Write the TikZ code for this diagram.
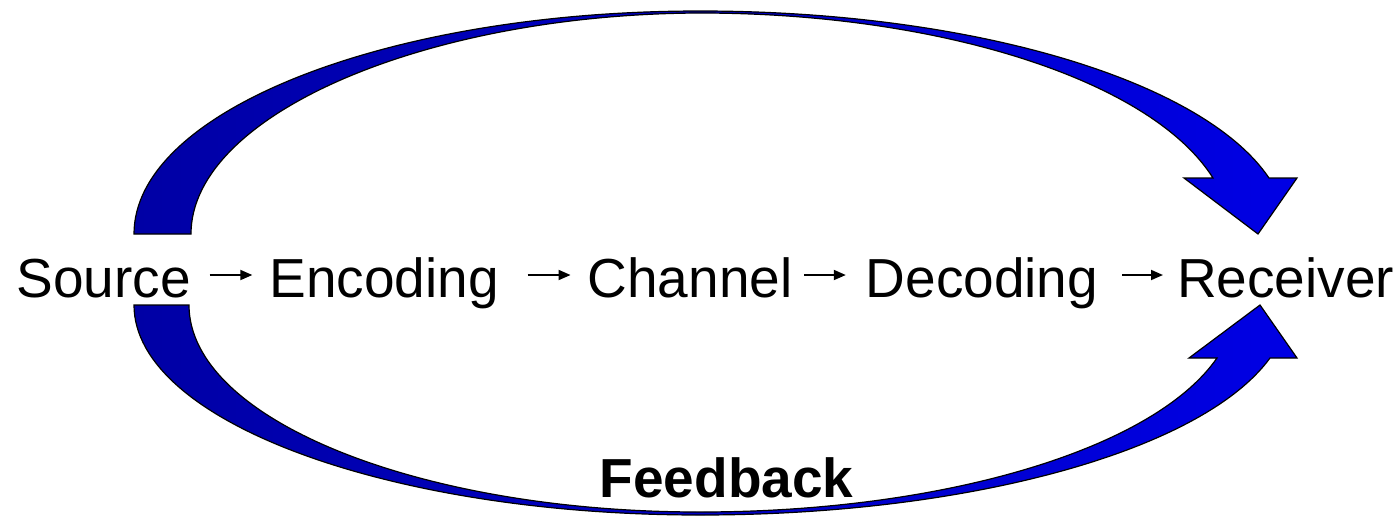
\documentclass[tikz,border=0pt]{standalone}
\usepackage{fontspec}
\setmainfont{Liberation Sans}
\usepackage{tikz}
\usetikzlibrary{arrows.meta}
\definecolor{fbdark}{RGB}{0,0,165}
\definecolor{fbbright}{RGB}{0,0,228}

\begin{document}
\begin{tikzpicture}[x=1pt,y=-1pt]
\tikzset{stage/.style = {inner sep=0pt, outer sep=0pt, anchor=base, font=\fontsize{55}{66}\selectfont, text height=52pt, text depth=8pt}}
\tikzset{flow/.style = {line width=1.8pt, -{Triangle[length=12pt,width=10pt]}}}
\tikzset{bigarrow/.style = {draw=black, line width=1.2pt, line join=miter, left color=fbdark, right color=fbbright}}
\useasboundingbox (0,0) rectangle (1398,517);
% big arrows
\path[bigarrow] (134,234) .. controls (134,111) and (387,11) .. (700,11)
  .. controls (968,11) and (1202,79) .. (1269,178)
  -- (1297,178) -- (1258,234) -- (1184,178) -- (1213,178)
  .. controls (1152,81) and (942,13) .. (700,13)
  .. controls (425,14) and (191,115) .. (191,234) -- cycle;
\path[bigarrow] (134,305) .. controls (134,421) and (388,515) .. (700,515)
  .. controls (969,515) and (1202,451) .. (1270,358)
  -- (1297,358) -- (1260,305) -- (1189,358) -- (1217,358)
  .. controls (1154,449) and (944,512) .. (700,512)
  .. controls (418,512) and (189,419) .. (189,305) -- cycle;
% stages
\node[stage] (src) at (103.5,297) {Source};
\node[stage] (enc) at (384,297) {Encoding};
\node[stage] (chan) at (690,297) {Channel};
\node[stage] (dec) at (982,297) {Decoding};
\node[stage] (rec) at (1285.5,297) {Receiver};
\node[anchor=base, inner sep=0pt, font=\fontsize{55}{66}\selectfont\bfseries] (fb) at (726.5,497) {Feedback};
%edges
\draw[flow, shorten <=19pt, shorten >=17pt] (src) -- (enc);
\draw[flow, shorten <=29pt, shorten >=17pt] (enc) -- (chan);
\draw[flow, shorten <=12pt, shorten >=20pt] (chan) -- (dec);
\draw[flow, shorten <=24pt, shorten >=14pt] (dec) -- (rec);

\end{tikzpicture}
\end{document}
